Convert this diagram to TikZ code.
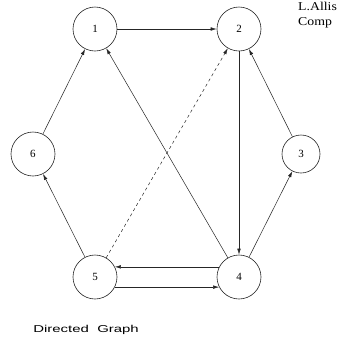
\documentclass[tikz,border=0pt]{standalone}
\usepackage{fontspec}
\setmainfont{Liberation Serif}
\newfontfamily\labelsans{Liberation Sans}
\usetikzlibrary{arrows.meta}
\begin{document}
\begin{tikzpicture}[x=1pt,y=-1pt,
  vertex/.style={circle,draw=black!85,line width=0.6pt,minimum size=44pt,inner sep=0pt,
    font=\fontsize{11}{13}\selectfont},
  edge/.style={-{Latex[length=6pt,width=3.5pt]},line width=0.5pt,draw=black!85},
  note/.style={anchor=base west,inner sep=0pt,font=\fontsize{12}{14}\selectfont,xscale=1.15}]
\useasboundingbox (0,0) rectangle (343,346);
\fill[white] (0,0) rectangle (343,346);
\node[vertex] (n1) at (95,29) {1};
\node[vertex] (n2) at (239,29) {2};
\node[vertex,minimum size=38pt] (n3) at (301,154) {3};
\node[vertex] (n4) at (239,277) {4};
\node[vertex] (n5) at (95,277) {5};
\node[vertex] (n6) at (33,154) {6};
\draw[edge] (n1) -- (n2);
\draw[edge] (n2) -- (n4);
\draw[edge] (n3) -- (n2);
\draw[edge] (n4) -- (n3);
\draw[edge] (n4) -- (n1);
\draw[edge,dashed] (n5) -- (n2);
\draw[edge] (n5) -- (n6);
\draw[edge] (n6) -- (n1);
\draw[edge] (n4.153) -- (n5.27);
\draw[edge] (n5.-27) -- (n4.207);
\node[note] (auth) at (298,10) {L.Allis};
\node[note] (dept) at (298,25) {Comp};
\node[note,font=\labelsans\fontsize{10}{12}\selectfont,xscale=1.3] (title) at (33,332) {Directed\ \ Graph};
\end{tikzpicture}
\end{document}
